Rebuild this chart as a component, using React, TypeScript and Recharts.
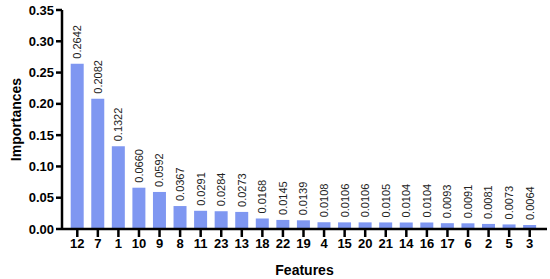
import React from 'react';
import { BarChart, Bar, XAxis, YAxis, LabelList } from 'recharts';

const features = ['12', '7', '1', '10', '9', '8', '11', '23', '13', '18', '22', '19', '4', '15', '20', '21', '14', '16', '17', '6', '2', '5', '3'];
const importances = [0.2642, 0.2082, 0.1322, 0.066, 0.0592, 0.0367, 0.0291, 0.0284, 0.0273, 0.0168, 0.0145, 0.0139, 0.0108, 0.0106, 0.0106, 0.0105, 0.0104, 0.0104, 0.0093, 0.0091, 0.0081, 0.0073, 0.0064];
const yTicks = [0, 0.05, 0.1, 0.15, 0.2, 0.25, 0.3, 0.35];

const data = features.map((f, i) => ({ feature: f, value: importances[i] }));

const font = '"Liberation Sans", Arial, sans-serif';

const ValueLabel = (props: any) => {
  const { x, y, width, value } = props;
  const cx = x + width / 2 + 4;
  const cy = y - 5;
  return (
    <text x={cx} y={cy} transform={`rotate(-90 ${cx} ${cy})`} textAnchor="start"
      fontSize={11} fill="#222" fontFamily={font}>
      {value.toFixed(4)}
    </text>
  );
};

export default function App() {
  return (
    <div style={{ position: 'absolute', left: 0, top: 0, width: 550, height: 279, background: '#fff' }}>
      <BarChart width={550} height={279} data={data} margin={{ top: 10, right: 3, left: 0, bottom: 20 }} barCategoryGap="18%">
        <XAxis dataKey="feature" interval={0} tickLine={{ stroke: '#000', strokeWidth: 2.5 }} tickSize={8}
          axisLine={{ stroke: '#000', strokeWidth: 2.5 }} padding={{ left: 5, right: 7 }}
          tick={{ fontSize: 13, fontWeight: 'bold', fill: '#000', fontFamily: font }}
          label={{ value: 'Features', position: 'insideBottom', offset: -16, fontSize: 14, fontWeight: 'bold', fill: '#000', fontFamily: font }} />
        <YAxis domain={[0, 0.35]} ticks={yTicks} width={62} interval={0}
          tickFormatter={(v: number) => v.toFixed(2)} tickSize={6}
          tickLine={{ stroke: '#000', strokeWidth: 2.5 }} axisLine={{ stroke: '#000', strokeWidth: 2.5 }}
          tick={{ fontSize: 13, fontWeight: 'bold', fill: '#000', fontFamily: font }}
          label={{ value: 'Importances', angle: -90, position: 'insideLeft', offset: 16, fontSize: 14, fontWeight: 'bold', fill: '#000', fontFamily: font, style: { textAnchor: 'middle' } }} />
        <Bar dataKey="value" fill="#7f97f1" isAnimationActive={false}>
          <LabelList dataKey="value" content={ValueLabel} />
        </Bar>
      </BarChart>
    </div>
  );
}
